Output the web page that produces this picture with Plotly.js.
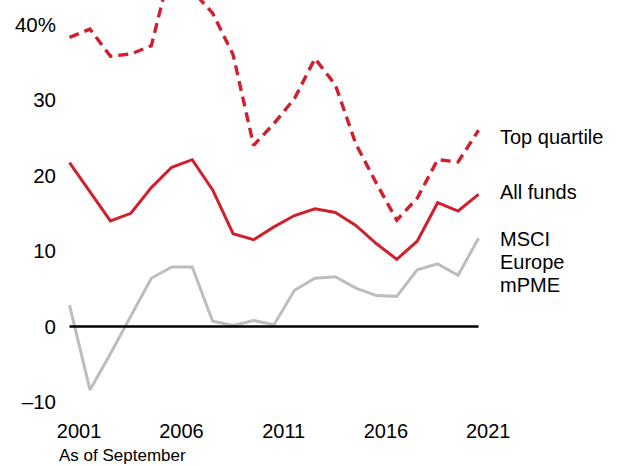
<!DOCTYPE html>
<html>
<head>
<meta charset="utf-8">
<script src="https://cdn.plot.ly/plotly-3.0.1.min.js"></script>
<style>html,body{margin:0;padding:0;background:#fff;}#chart{width:620px;height:466px;}</style>
</head>
<body>
<div id="chart"></div>
<script>
const years = [2001,2002,2003,2004,2005,2006,2007,2008,2009,2010,2011,2012,2013,2014,2015,2016,2017,2018,2019,2020,2021];
const topQuartile = [38.3,39.4,35.8,36.1,37.2,48.0,44.5,41.5,36.0,24.0,26.9,30.2,35.5,32.0,24.2,19.0,14.1,17.0,22.1,21.8,26.0];
const allFunds = [21.7,17.9,14.0,15.0,18.4,21.1,22.1,18.1,12.3,11.5,13.2,14.7,15.6,15.1,13.4,11.0,8.9,11.3,16.4,15.3,17.5];
const msciEurope = [2.85,-8.4,-3.6,1.4,6.4,7.9,7.9,0.7,0.15,0.8,0.25,4.8,6.4,6.6,5.1,4.1,4.0,7.5,8.3,6.8,11.7];
const xTickYears = [2001,2006,2011,2016,2021];
const yTickVals = [-10,0,10,20,30,40];
const yTickText = ["\u201310","0","10","20","30","40%"];
const seriesLabels = ["Top quartile","All funds",["MSCI","Europe","mPME"]];

const RED = "#d0202e";
const GRAY = "#bdbdbd";
const FONT = "Arial, 'Liberation Sans', sans-serif";

const traces = [
  {x: years, y: msciEurope, type: "scatter", mode: "lines", line: {color: GRAY, width: 3}, hoverinfo: "skip"},
  {x: years, y: allFunds, type: "scatter", mode: "lines", line: {color: RED, width: 3}, hoverinfo: "skip"},
  {x: years, y: topQuartile, type: "scatter", mode: "lines", line: {color: RED, width: 3.4, dash: "10px,6px"}, hoverinfo: "skip"}
];

const last = years.length - 1;
const lab = (y, text) => ({xref: "x", yref: "y", x: years[last], y: y, text: text, xanchor: "left", yanchor: "middle", xshift: 19, showarrow: false, font: {size: 20, color: "#000", family: FONT}});
const annotations = [
  lab(25.1, seriesLabels[0]),
  lab(17.85, seriesLabels[1]),
  lab(11.6, seriesLabels[2][0]),
  lab(8.5, seriesLabels[2][1]),
  lab(5.5, seriesLabels[2][2]),
  {xref: "paper", yref: "paper", x: 0, y: 0, text: "As of September", xanchor: "left", yanchor: "middle", xshift: -3.5, yshift: -38.6, showarrow: false, font: {size: 17, color: "#000", family: FONT}}
];

const layout = {
  width: 620, height: 466,
  margin: {l: 60, r: 130, t: 0, b: 49},
  paper_bgcolor: "#fff", plot_bgcolor: "#fff",
  showlegend: false,
  font: {family: FONT, size: 20, color: "#000"},
  xaxis: {
    range: [2000.535, 2021.56],
    tickvals: xTickYears.map(v => v + 0.47),
    ticktext: xTickYears.map(String),
    showgrid: false, zeroline: false, showline: false, ticks: "",
    tickfont: {size: 20, family: FONT, color: "#000"}
  },
  yaxis: {
    range: [-11.98, 43.25],
    tickvals: yTickVals, ticktext: yTickText,
    showgrid: false, zeroline: false, showline: false, ticks: "",
    ticklabelstandoff: 3,
    tickfont: {size: 20.5, family: FONT, color: "#000"}
  },
  shapes: [
    {type: "line", xref: "x", yref: "y", x0: years[0], x1: years[last], y0: 0, y1: 0, line: {color: "#000", width: 2.5}, layer: "above"}
  ],
  annotations: annotations
};

Plotly.newPlot("chart", traces, layout, {staticPlot: true, displayModeBar: false});
</script>
</body>
</html>
